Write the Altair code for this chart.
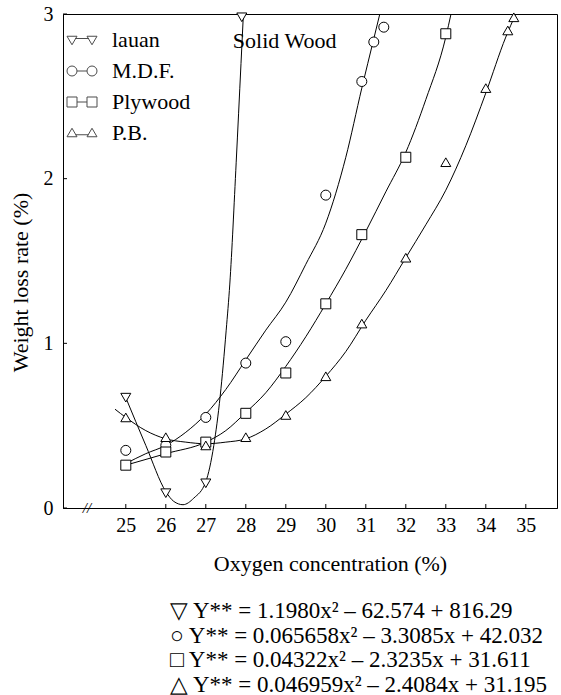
import altair as alt
import pandas as pd

# ---------------- data ----------------
series_names = ["lauan", "M.D.F.", "Plywood", "P.B."]
marker_shapes = ["triangle-down", "circle", "square", "triangle-up"]

# measured points
lauan_x = [25, 26, 27, 27.9]
lauan_y = [0.67, 0.09, 0.15, 2.98]
mdf_x = [25, 26, 27, 28, 29, 30, 30.9, 31.2, 31.45]
mdf_y = [0.35, 0.38, 0.55, 0.88, 1.01, 1.90, 2.59, 2.83, 2.92]
ply_x = [25, 26, 27, 28, 29, 30, 30.9, 32, 33]
ply_y = [0.26, 0.34, 0.40, 0.575, 0.82, 1.24, 1.66, 2.13, 2.88]
pb_x = [25, 26, 27, 28, 29, 30, 30.9, 32, 33, 34, 34.55, 34.7]
pb_y = [0.55, 0.43, 0.38, 0.43, 0.565, 0.80, 1.12, 1.52, 2.10, 2.55, 2.90, 2.98]

# fitted curves
lauan_cx = [25, 25.5, 26, 26.2, 26.43, 26.7, 27.0, 27.2, 27.36, 27.51, 27.6, 27.76, 27.88, 27.94]
lauan_cy = [0.67, 0.38, 0.10, 0.04, 0.02, 0.06, 0.16, 0.38, 0.68, 1.08, 1.36, 2.10, 2.70, 3.0]
mdf_cx = [25, 25.5, 26, 26.5, 27, 27.5, 28, 28.5, 29, 29.5, 30, 30.5, 30.9, 31.2, 31.35]
mdf_cy = [0.27, 0.33, 0.38, 0.46, 0.57, 0.72, 0.90, 1.08, 1.25, 1.48, 1.73, 2.13, 2.55, 2.85, 3.0]
ply_cx = [25, 26, 27, 27.5, 28, 28.5, 29, 29.5, 30, 30.5, 31, 31.5, 32, 32.5, 33, 33.13]
ply_cy = [0.26, 0.33, 0.40, 0.47, 0.58, 0.70, 0.86, 1.04, 1.24, 1.45, 1.68, 1.92, 2.16, 2.48, 2.86, 3.0]
pb_cx = [24.73, 25, 25.5, 26, 26.5, 27, 27.5, 28, 28.5, 29, 29.5, 30, 30.5, 31, 31.5, 32, 32.5, 33, 33.5, 34, 34.5, 34.75]
pb_cy = [0.60, 0.55, 0.47, 0.42, 0.40, 0.39, 0.40, 0.42, 0.48, 0.57, 0.67, 0.80, 0.95, 1.14, 1.32, 1.52, 1.72, 1.93, 2.20, 2.52, 2.86, 3.0]

x_ticks = [25, 26, 27, 28, 29, 30, 31, 32, 33, 34, 35]
y_ticks = [0, 1, 2, 3]

equations = [
    "▽ Y** = 1.1980x² – 62.574 + 816.29",
    "○ Y** = 0.065658x² – 3.3085x + 42.032",
    "□ Y** = 0.04322x² – 2.3235x + 31.611",
    "△ Y** = 0.046959x² – 2.4084x + 31.195",
]
annotation_text = "Solid Wood"
annotation_x, annotation_y = 28.97, 2.835
break_x = 24.03

# ---------------- tables ----------------
def frame(name, xs, ys):
    return pd.DataFrame({"x": xs, "y": ys, "series": name})

points = pd.concat([
    frame("lauan", lauan_x, lauan_y),
    frame("M.D.F.", mdf_x, mdf_y),
    frame("Plywood", ply_x, ply_y),
    frame("P.B.", pb_x, pb_y),
], ignore_index=True)
curves = pd.concat([
    frame("lauan", lauan_cx, lauan_cy),
    frame("M.D.F.", mdf_cx, mdf_cy),
    frame("Plywood", ply_cx, ply_cy),
    frame("P.B.", pb_cx, pb_cy),
], ignore_index=True)

FONT = "Liberation Serif"
W, H = 494, 494

xscale = alt.Scale(domain=[23.43, 35.78], nice=False, zero=False)
yscale = alt.Scale(domain=[0, 3], nice=False)

xaxis = alt.Axis(values=x_ticks, format="d", title="Oxygen concentration (%)", grid=False,
                 ticks=False, tickSize=0, labelPadding=7, labelFont=FONT, labelFontSize=20,
                 labelColor="black", titleFont=FONT, titleFontSize=22, titleFontWeight="normal",
                 titleColor="black", titleX=267, titleY=45, domainColor="black", domainWidth=1)
yaxis = alt.Axis(values=y_ticks, format="d", title="Weight loss rate (%)", grid=False,
                 ticks=False, tickSize=0, labelPadding=10, labelFont=FONT, labelFontSize=20,
                 labelColor="black", titleFont=FONT, titleFontSize=22, titleFontWeight="normal",
                 titleColor="black", titleX=-43, titleY=268, titleBaseline="middle",
                 domainColor="black", domainWidth=1)

X = alt.X("x:Q", scale=xscale, axis=xaxis)
Y = alt.Y("y:Q", scale=yscale, axis=yaxis)

lines = alt.Chart(curves).mark_line(color="black", strokeWidth=1, interpolate="monotone", clip=True).encode(
    x=X, y=Y, detail="series:N"
)

marks = alt.Chart(points).mark_point(filled=True, fill="white", stroke="black", strokeWidth=1,
                                     size=100, opacity=1).encode(
    x=X, y=Y,
    shape=alt.Shape("series:N", scale=alt.Scale(domain=series_names, range=marker_shapes), legend=None),
)

# inward ticks
xt = alt.Chart(pd.DataFrame({"x": x_ticks})).mark_rule(color="black", strokeWidth=1).encode(
    x=X, y=alt.value(H), y2=alt.value(H - 4)
)
yt = alt.Chart(pd.DataFrame({"y": y_ticks})).mark_rule(color="black", strokeWidth=1).encode(
    y=Y, x=alt.value(0), x2=alt.value(4)
)

brk = alt.Chart(pd.DataFrame({"x": [break_x], "y": [0], "t": ["//"]})).mark_text(
    font=FONT, fontSize=15, fontStyle="italic", baseline="middle", align="center", color="black"
).encode(x=X, y=Y, text="t:N")

ann = alt.Chart(pd.DataFrame({"x": [annotation_x], "y": [annotation_y], "t": [annotation_text]})).mark_text(
    font=FONT, fontSize=22, baseline="middle", align="center", color="black"
).encode(x=X, y=Y, text="t:N")

# legend symbols: two markers joined by a short line
def tri_down(cx):
    return f"M{cx-1},-0.75L{cx+1},-0.75L{cx},0.95Z"
def tri_up(cx):
    return f"M{cx},-0.95L{cx+1},0.75L{cx-1},0.75Z"
def circ(cx):
    return f"M{cx-1},0A1,1 0 1,1 {cx+1},0A1,1 0 1,1 {cx-1},0Z"
def sq(cx):
    return f"M{cx-1},-1L{cx+1},-1L{cx+1},1L{cx-1},1Z"

legend_paths = [
    tri_down(-2) + tri_down(2) + "M-1.4,-0.3L1.4,-0.3",
    circ(-2) + circ(2) + "M-1,0L1,0",
    sq(-2) + sq(2) + "M-1,0L1,0",
    tri_up(-2) + tri_up(2) + "M-1.3,0.35L1.3,0.35",
]

legend_layer = alt.Chart(pd.DataFrame({"series": series_names})).transform_filter("false").mark_point(
    filled=False, color="black", strokeWidth=1
).encode(
    shape=alt.Shape("series:N", scale=alt.Scale(domain=series_names, range=legend_paths),
                    legend=alt.Legend(title=None, orient="none", legendX=8, legendY=15,
                                      labelFont=FONT, labelFontSize=22, labelColor="black",
                                      symbolSize=100, symbolStrokeWidth=1, symbolStrokeColor="black",
                                      symbolFillColor="white", labelOffset=19, rowPadding=9, padding=0))
)

chart = alt.layer(lines, marks, xt, yt, brk, ann, legend_layer).resolve_scale(
    shape="independent"
).properties(
    width=W, height=H,
    padding={"left": 63, "top": 14, "right": 4, "bottom": 187},
    autosize=alt.AutoSizeParams(type="none"),
    title=alt.TitleParams(text=equations, orient="bottom", anchor="start", frame="group", align="left",
                          dx=107, offset=26, font=FONT, fontSize=23, fontWeight="normal",
                          lineHeight=24.5, color="black"),
).configure(
    background="white", font=FONT
).configure_view(
    stroke="black", strokeWidth=1
).configure_axis(
    labelFont=FONT, titleFont=FONT
).configure_legend(
    labelFont=FONT
).configure_text(font=FONT)

chart.save("out.html", embed_options={"renderer": "svg", "actions": False})
